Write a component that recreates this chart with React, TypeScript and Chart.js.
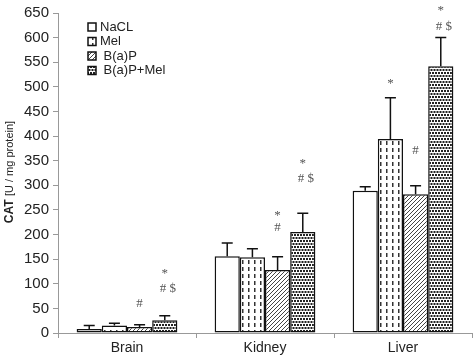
import { useEffect, useRef } from "react";
import { Chart, registerables } from "chart.js";
Chart.register(...registerables);

const categories = ["Brain", "Kidney", "Liver"];
const seriesNames = ["NaCL", "Mel", "B(a)P", "B(a)P+Mel"];
const legendLabels = ["NaCL", "Mel", " B(a)P", " B(a)P+Mel"];
const naclValues = [8, 156, 289];
const melValues = [15, 154, 394];
const bapValues = [12, 128, 282];
const bapMelValues = [26, 205, 542];
const naclSD = [7, 27, 8];
const melSD = [5, 17, 84];
const bapSD = [5, 27, 17];
const bapMelSD = [9, 38, 58];
const yMin = 0;
const yMax = 650;
const yStep = 50;
// significance marks: [categoryIndex, seriesIndex, value, text]
const marks: [number, number, number, string][] = [
  [0, 2, 60, "#"],
  [0, 3, 126, "*"],
  [0, 3, 90, "# $"],
  [1, 2, 245, "*"],
  [1, 2, 215, "#"],
  [1, 3, 350, "*"],
  [1, 3, 314, "# $"],
  [2, 1, 513, "*"],
  [2, 2, 370, "#"],
  [2, 3, 660, "*"],
  [2, 3, 623, "# $"],
];

const allValues = [naclValues, melValues, bapValues, bapMelValues];
const allSD = [naclSD, melSD, bapSD, bapMelSD];

function makePattern(kind: number): CanvasPattern | string {
  const c = document.createElement("canvas");
  const ctx = c.getContext("2d")!;
  if (kind === 0) return "#ffffff";
  if (kind === 1) {
    c.width = 6; c.height = 7;
    ctx.fillStyle = "#fff"; ctx.fillRect(0, 0, 6, 7);
    ctx.fillStyle = "#333"; ctx.fillRect(2, 1, 1.5, 4);
  } else if (kind === 2) {
    c.width = 4; c.height = 4;
    ctx.fillStyle = "#fff"; ctx.fillRect(0, 0, 4, 4);
    ctx.strokeStyle = "#444"; ctx.lineWidth = 1;
    ctx.beginPath();
    ctx.moveTo(-1, 5); ctx.lineTo(5, -1);
    ctx.moveTo(-1, 1); ctx.lineTo(1, -1);
    ctx.moveTo(3, 5); ctx.lineTo(5, 3);
    ctx.stroke();
  } else {
    c.width = 6; c.height = 6;
    ctx.fillStyle = "#fff"; ctx.fillRect(0, 0, 6, 6);
    ctx.fillStyle = "#222";
    ctx.fillRect(0, 0, 2, 2); ctx.fillRect(3, 0, 2, 2);
    ctx.fillRect(1.5, 3, 2, 2); ctx.fillRect(4.5, 3, 1.5, 2); ctx.fillRect(0, 3, 0.5, 2);
  }
  return ctx.createPattern(c, "repeat")!;
}

const overlay = {
  id: "overlay",
  afterDatasetsDraw(chart: any) {
    const ctx = chart.ctx;
    const y = chart.scales.y;
    ctx.save();
    // error bars
    ctx.strokeStyle = "#111";
    ctx.lineWidth = 1.5;
    chart.data.datasets.forEach((ds: any, di: number) => {
      const meta = chart.getDatasetMeta(di);
      meta.data.forEach((bar: any, i: number) => {
        const top = y.getPixelForValue(allValues[di][i] + allSD[di][i]);
        const base = y.getPixelForValue(allValues[di][i]);
        ctx.beginPath();
        ctx.moveTo(bar.x, base);
        ctx.lineTo(bar.x, top);
        ctx.moveTo(bar.x - 5.5, top);
        ctx.lineTo(bar.x + 5.5, top);
        ctx.stroke();
      });
    });
    // significance marks
    ctx.fillStyle = "#555";
    ctx.font = "13px 'Liberation Serif', serif";
    ctx.textAlign = "center";
    ctx.textBaseline = "middle";
    marks.forEach(([ci, si, v, t]) => {
      const bar = chart.getDatasetMeta(si).data[ci];
      ctx.fillText(t, bar.x + (t.length > 1 ? 3 : 0), y.getPixelForValue(v) + (t === "*" ? 3 : 0));
    });
    ctx.restore();
  },
  afterDraw(chart: any) {
    const ctx = chart.ctx;
    ctx.save();
    // legend
    chart.data.datasets.forEach((ds: any, di: number) => {
      const ry = 27 + di * 14.5;
      ctx.fillStyle = ds.backgroundColor;
      ctx.fillRect(88, ry - 4, 8, 8);
      ctx.strokeStyle = "#111";
      ctx.lineWidth = 1.5;
      ctx.strokeRect(88, ry - 4, 8, 8);
      ctx.fillStyle = "#222";
      ctx.font = "13px 'Liberation Sans', Arial, sans-serif";
      ctx.textAlign = "left";
      ctx.textBaseline = "middle";
      ctx.fillText(legendLabels[di], 100, ry);
    });
    // y title
    ctx.translate(10, 172);
    ctx.rotate(-Math.PI / 2);
    ctx.textBaseline = "middle";
    ctx.textAlign = "left";
    const boldFont = "bold 12px 'Liberation Sans', Arial, sans-serif";
    const normFont = "11px 'Liberation Sans', Arial, sans-serif";
    const a = "CAT ";
    const b = "[U / mg protein]";
    ctx.font = boldFont;
    const wa = ctx.measureText(a).width;
    ctx.font = normFont;
    const wb = ctx.measureText(b).width;
    const start = -(wa + wb) / 2;
    ctx.fillStyle = "#222";
    ctx.font = boldFont;
    ctx.fillText(a, start, 0);
    ctx.font = normFont;
    ctx.fillText(b, start + wa, 0);
    ctx.restore();
  },
};

export default function App() {
  const ref = useRef<HTMLCanvasElement>(null);
  useEffect(() => {
    const chart = new Chart(ref.current!, {
      type: "bar",
      data: {
        labels: categories,
        datasets: seriesNames.map((name, i) => ({
          label: name,
          data: allValues[i],
          backgroundColor: makePattern(i) as any,
          borderColor: "#111",
          borderWidth: 1.5,
          borderSkipped: false,
          categoryPercentage: 0.73,
          barPercentage: 1,
        })),
      },
      options: {
        responsive: false,
        animation: false,
        layout: { padding: { top: 8, right: 2, left: 0, bottom: 0 } },
        plugins: { legend: { display: false }, tooltip: { enabled: false } },
        scales: {
          x: {
            afterFit: (s: any) => { s.height = 24; },
            grid: { display: true, drawOnChartArea: false, drawTicks: true, tickLength: 5, offset: true, color: "#999" },
            border: { color: "#999", width: 1 },
            ticks: { color: "#222", padding: 2, font: { family: "'Liberation Sans', Arial, sans-serif", size: 14 } },
          },
          y: {
            min: yMin,
            max: yMax,
            afterFit: (s: any) => { s.width = 58; },
            grid: { display: true, drawOnChartArea: false, drawTicks: true, tickLength: 5, color: "#999" },
            border: { color: "#999", width: 1 },
            ticks: { stepSize: yStep, color: "#222", padding: 4, font: { family: "'Liberation Sans', Arial, sans-serif", size: 15 } },
          },
        },
      },
      plugins: [overlay],
    });
    return () => chart.destroy();
  }, []);
  return (
    <div style={{ position: "fixed", left: 0, top: 0, width: 474, height: 357, background: "#fff" }}>
      <canvas ref={ref} width={474} height={357} />
    </div>
  );
}
